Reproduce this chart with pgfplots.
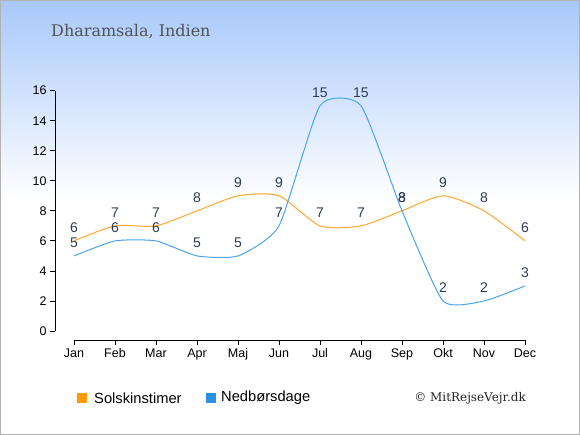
\documentclass[border=0pt]{standalone}
\usepackage{pgfplots}
\pgfplotsset{compat=1.18}
\usepackage{fontspec}
\setmainfont{Liberation Sans}
\newfontfamily\seriffont{DejaVu Serif}
\definecolor{sun}{HTML}{FFA733}
\definecolor{sunsq}{HTML}{FF9900}
\definecolor{rain}{HTML}{4AA3EE}
\definecolor{rainsq}{HTML}{2D8FE5}
\definecolor{bgtop}{HTML}{A8C8FB}
\definecolor{lbl}{HTML}{2E3B52}
\begin{document}
\begin{tikzpicture}[x=1pt,y=1pt]
\useasboundingbox (0,0) rectangle (580,435);
\fill[white] (0,0) rectangle (580,435);
\shade[top color=bgtop, bottom color=white] (0,235) rectangle (580,435);
\draw[color=black!30, line width=1pt] (0.5,0.5) rectangle (579.5,434.5);
\node[anchor=base west, font=\seriffont\fontsize{16}{18}\selectfont, text=black!68, inner sep=0] at (51,398) {Dharamsala, Indien};
\begin{axis}[
 at={(55pt,104pt)}, anchor=south west, scale only axis,
 width=470pt, height=240.3pt,
 xmin=-0.463, xmax=11, ymin=0, ymax=16,
 axis lines=left, axis line style={draw=none},
 clip=false,
 /pgf/number format/assume math mode=true,
 xtick={0,...,11},
 xticklabels={Jan,Feb,Mar,Apr,Maj,Jun,Jul,Aug,Sep,Okt,Nov,Dec},
 ytick={0,2,...,16},
 tick style={black, line width=0.8pt},
 major tick length=5pt,
 tick align=outside,
 xtick style={yshift=-9pt},
 xticklabel style={yshift=-9pt, font=\fontsize{12.5}{14}\selectfont},
 yticklabel style={font=\fontsize{12.5}{14}\selectfont},
 nodes near coords style={font=\fontsize{14}{16}\selectfont, text=lbl, anchor=center, yshift=13pt},
]
\draw[black, line width=0.8pt] ([yshift=-9pt]axis cs:0,0) -- ([yshift=-9pt]axis cs:11,0);
\draw[black, line width=0.8pt] (axis cs:-0.463,0) -- (axis cs:-0.463,16);
\addplot[sun, line width=1pt, smooth, tension=0.4, nodes near coords] coordinates {(0,6)(1,7)(2,7)(3,8)(4,9)(5,9)(6,7)(7,7)(8,8)(9,9)(10,8)(11,6)};
\addplot[rain, line width=1pt, smooth, tension=0.33, nodes near coords] coordinates {(0,5)(1,6)(2,6)(3,5)(4,5)(5,7)(6,15)(7,15)(8,8)(9,2)(10,2)(11,3)};
\end{axis}
\fill[sunsq] (77,32) rectangle (87,42);
\node[anchor=west, inner sep=0, font=\fontsize{14.7}{16}\selectfont] at (94,37) {Solskinstimer};
\fill[rainsq] (206,32) rectangle (216,42);
\node[anchor=west, inner sep=0, font=\fontsize{14.7}{16}\selectfont] at (221,37) {Nedbørsdage};
\node[anchor=east, inner sep=0, font=\seriffont\fontsize{12}{14}\selectfont, text=black!85] at (526,37) {© MitRejseVejr.dk};
\end{tikzpicture}
\end{document}
